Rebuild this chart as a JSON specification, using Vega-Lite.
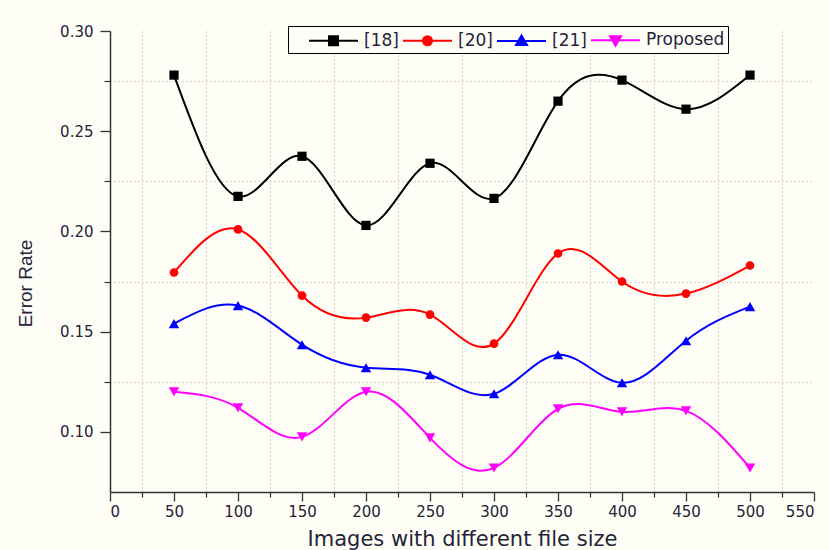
{
  "$schema": "https://vega.github.io/schema/vega-lite/v6.json",
  "width": 704,
  "height": 461,
  "autosize": "none",
  "padding": {"left": 110, "top": 31, "right": 15, "bottom": 58},
  "background": "#fffef6",
  "config": {
    "view": {"stroke": null},
    "font": "DejaVu Sans",
    "axis": {"labelFont": "DejaVu Sans", "titleFont": "DejaVu Sans", "labelColor": "#24243a", "titleColor": "#24243a", "tickColor": "#333333", "domainColor": "#333333"}
  },
  "data": {
    "values": [
      {"size": 50, "rate": 0.278, "method": "[18]"},
      {"size": 100, "rate": 0.2175, "method": "[18]"},
      {"size": 150, "rate": 0.2375, "method": "[18]"},
      {"size": 200, "rate": 0.203, "method": "[18]"},
      {"size": 250, "rate": 0.234, "method": "[18]"},
      {"size": 300, "rate": 0.2165, "method": "[18]"},
      {"size": 350, "rate": 0.265, "method": "[18]"},
      {"size": 400, "rate": 0.2755, "method": "[18]"},
      {"size": 450, "rate": 0.261, "method": "[18]"},
      {"size": 500, "rate": 0.278, "method": "[18]"},
      {"size": 50, "rate": 0.1795, "method": "[20]"},
      {"size": 100, "rate": 0.201, "method": "[20]"},
      {"size": 150, "rate": 0.168, "method": "[20]"},
      {"size": 200, "rate": 0.157, "method": "[20]"},
      {"size": 250, "rate": 0.1585, "method": "[20]"},
      {"size": 300, "rate": 0.144, "method": "[20]"},
      {"size": 350, "rate": 0.189, "method": "[20]"},
      {"size": 400, "rate": 0.175, "method": "[20]"},
      {"size": 450, "rate": 0.169, "method": "[20]"},
      {"size": 500, "rate": 0.183, "method": "[20]"},
      {"size": 50, "rate": 0.154, "method": "[21]"},
      {"size": 100, "rate": 0.163, "method": "[21]"},
      {"size": 150, "rate": 0.1435, "method": "[21]"},
      {"size": 200, "rate": 0.132, "method": "[21]"},
      {"size": 250, "rate": 0.1285, "method": "[21]"},
      {"size": 300, "rate": 0.119, "method": "[21]"},
      {"size": 350, "rate": 0.1385, "method": "[21]"},
      {"size": 400, "rate": 0.1245, "method": "[21]"},
      {"size": 450, "rate": 0.1455, "method": "[21]"},
      {"size": 500, "rate": 0.1625, "method": "[21]"},
      {"size": 50, "rate": 0.12, "method": "Proposed"},
      {"size": 100, "rate": 0.112, "method": "Proposed"},
      {"size": 150, "rate": 0.0975, "method": "Proposed"},
      {"size": 200, "rate": 0.12, "method": "Proposed"},
      {"size": 250, "rate": 0.097, "method": "Proposed"},
      {"size": 300, "rate": 0.082, "method": "Proposed"},
      {"size": 350, "rate": 0.1115, "method": "Proposed"},
      {"size": 400, "rate": 0.11, "method": "Proposed"},
      {"size": 450, "rate": 0.1105, "method": "Proposed"},
      {"size": 500, "rate": 0.082, "method": "Proposed"}
    ]
  },
  "resolve": {"axis": {"x": "independent", "y": "independent"}},
  "layer": [
    {
      "mark": {"type": "line", "interpolate": "natural", "strokeWidth": 2},
      "encoding": {
        "x": {"field": "size", "type": "quantitative", "scale": {"domain": [0, 550], "nice": false, "zero": false},
          "axis": {"orient": "bottom", "values": [25, 75, 125, 175, 225, 275, 325, 375, 425, 475, 525], "labels": false, "domain": false, "title": null, "tickSize": 5, "tickWidth": 1.2, "grid": true, "gridDash": [1, 3], "gridColor": "#b8a8a8", "gridWidth": 1}},
        "y": {"field": "rate", "type": "quantitative", "scale": {"domain": [0.07, 0.3], "nice": false, "zero": false},
          "axis": {"orient": "left", "values": [0.125, 0.175, 0.225, 0.275], "labels": false, "domain": false, "title": null, "tickSize": 6, "tickWidth": 1.2, "grid": true, "gridDash": [1, 3], "gridColor": "#b8a8a8", "gridWidth": 1}},
        "color": {"field": "method", "type": "nominal",
          "scale": {"domain": ["[18]", "[20]", "[21]", "Proposed"], "range": ["#000000", "#ff0000", "#0000ff", "#ff00ff"]},
          "legend": {
            "orient": "none", "legendX": 178, "legendY": -5, "direction": "horizontal", "columns": 4,
            "title": null, "strokeColor": "#000000", "padding": 3, "fillColor": "#fffef6",
            "symbolSize": 400, "symbolType": "stroke", "symbolStrokeWidth": 2,
            "labelFont": "DejaVu Sans", "labelFontSize": 17, "labelColor": "#24243a", "labelOffset": 34, "columnPadding": 0,
            "encoding": {
              "symbols": {
                "shape": {"value": {"expr": "datum.value === '[18]' ? 'M0.7,0H5.6M2.7,-0.45H3.6V0.45H2.7Z' : datum.value === '[20]' ? 'M-1,0H3.9M1,0A0.45,0.45,0,1,0,1.9,0A0.45,0.45,0,1,0,1,0Z' : datum.value === '[21]' ? 'M-1,0H3.9M1.45,-0.55L2,0.4H0.9Z' : 'M-1,0H3.9M1.45,0.55L2,-0.4H0.9Z'"}},
                "fill": {"value": {"expr": "scale('color', datum.value)"}},
                "stroke": {"value": {"expr": "scale('color', datum.value)"}},
                "strokeWidth": {"value": 2},
                "fillOpacity": {"value": 1}
              },
              "labels": {
                "dx": {"value": {"expr": "datum.value === '[18]' ? 17 : 0"}}
              }
            }
          }}
      }
    },
    {
      "transform": [{"filter": "datum.method === '[18]'"}],
      "mark": {"type": "point", "filled": true, "opacity": 1, "shape": "square", "size": 85, "color": "#000000"},
      "encoding": {
        "x": {"field": "size", "type": "quantitative",
          "axis": {"orient": "bottom", "values": [0, 50, 100, 150, 200, 250, 300, 350, 400, 450, 500, 550], "title": "Images with different file size", "titleFontSize": 21, "titleFontWeight": "normal", "titlePadding": 9, "labelFontSize": 15, "labelPadding": 3, "tickSize": 9, "tickWidth": 1.3, "domainWidth": 1.5, "grid": false}},
        "y": {"field": "rate", "type": "quantitative",
          "axis": {"orient": "left", "values": [0.1, 0.15, 0.2, 0.25, 0.3], "format": ".2f", "title": "Error Rate", "titleFont": "Liberation Sans", "titleFontSize": 19, "titleFontWeight": "normal", "titleX": -85, "titleY": 252, "titleAlign": "center", "titleBaseline": "middle", "labelFontSize": 15, "labelPadding": 7, "tickSize": 10, "tickWidth": 1.3, "domainWidth": 1.5, "grid": false}}
      }
    },
    {
      "transform": [{"filter": "datum.method === '[20]'"}],
      "mark": {"type": "point", "filled": true, "opacity": 1, "shape": "circle", "size": 75, "color": "#ff0000"},
      "encoding": {
        "x": {"field": "size", "type": "quantitative", "axis": null},
        "y": {"field": "rate", "type": "quantitative", "axis": null}
      }
    },
    {
      "transform": [{"filter": "datum.method === '[21]'"}],
      "mark": {"type": "point", "filled": true, "opacity": 1, "shape": "triangle-up", "size": 110, "color": "#0000ff"},
      "encoding": {
        "x": {"field": "size", "type": "quantitative", "axis": null},
        "y": {"field": "rate", "type": "quantitative", "axis": null}
      }
    },
    {
      "transform": [{"filter": "datum.method === 'Proposed'"}],
      "mark": {"type": "point", "filled": true, "opacity": 1, "shape": "triangle-down", "size": 110, "color": "#ff00ff"},
      "encoding": {
        "x": {"field": "size", "type": "quantitative", "axis": null},
        "y": {"field": "rate", "type": "quantitative", "axis": null}
      }
    }
  ]
}
